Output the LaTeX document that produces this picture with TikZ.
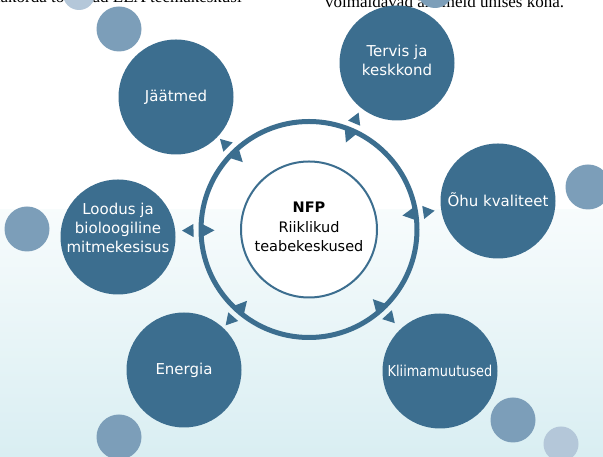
\documentclass[tikz,border=0pt]{standalone}
\usepackage{fontspec}
\setmainfont{DejaVu Sans}
\newfontfamily\serifT{Liberation Serif}
\usetikzlibrary{calc}
\definecolor{dark}{HTML}{3C6E8F}
\definecolor{med}{HTML}{7C9EB9}
\definecolor{lightb}{HTML}{B4C7D9}
\definecolor{bgb}{HTML}{D9EEF2}
\newcommand\outtri[1]{\fill[dark, shift={(c)}, rotate=#1] (127,0) -- (115.5,6.6) -- (115.5,-6.6) -- cycle;}
\newcommand\intri[1]{\fill[dark, shift={(c)}, rotate=#1] (94.5,0) -- (107,6.6) -- (107,-6.6) -- cycle;}
\begin{document}
\begin{tikzpicture}[x=1pt,y=1pt,
  sat/.style={circle, fill=dark, minimum size=115pt, inner sep=0pt},
  bub/.style={circle, fill=med, inner sep=0pt},
  bubl/.style={circle, fill=lightb, inner sep=0pt},
  lbl/.style={text=white, font=\fontsize{15}{19}\selectfont, align=center, inner sep=0pt},
  toptxt/.style={font=\serifT\fontsize{17}{20}\selectfont, inner sep=0pt}
]
\useasboundingbox (0,0) rectangle (603,457);
\clip (0,0) rectangle (603,457);
\fill[white] (0,0) rectangle (603,457);
\shade[top color=bgb!20, bottom color=bgb] (0,0) rectangle (603,247);

% top cut-off text
\node[toptxt, anchor=base east] (t1) at (242,454) {kes omakorda toetavad EEA teemakeskusi};
\node[toptxt, anchor=base west] (t2) at (325,449) {võimaldavad andmeid ühises koha.};

% small bubbles
\node[bubl, minimum size=32pt] (b1) at (79,463) {};
\node[bub, minimum size=45pt] (b2) at (119,428) {};
\node[bub, minimum size=36pt] (b3) at (435,467) {};
\node[bub, minimum size=45pt] (b4) at (588,270) {};
\node[bub, minimum size=45pt] (b5) at (27,228) {};
\node[bub, minimum size=45pt] (b6) at (513,37) {};
\node[bubl, minimum size=35pt] (b7) at (561,13) {};
\node[bub, minimum size=45pt] (b8) at (119,20) {};

% satellites
\node[sat] (s1) at (176,360) {};
\node[sat] (s2) at (397,394) {};
\node[sat] (s3) at (498,256) {};
\node[sat] (s4) at (440,86) {};
\node[sat] (s5) at (184,87) {};
\node[sat] (s6) at (118,220) {};
\node[lbl] (l1) at (176,360) {Jäätmed};
\node[lbl] (l2) at (397,397) {Tervis ja\\keskkond};
\node[lbl] (l3) at (498,257) {Õhu kvaliteet};
\node[lbl] (l4) at (440,86) {\scalebox{0.86}[1]{Kliimamuutused}};
\node[lbl] (l5) at (184,87) {Energia};
\node[lbl] (l6) at (118,229) {Loodus ja\\bioloogiline\\mitmekesisus};

% ring and hub
\coordinate (c) at (309,227.5);
\draw[dark, line width=5pt] (c) circle (108);
\node[circle, draw=dark, line width=2pt, fill=white, minimum size=136pt, inner sep=0pt] (hub) at (c) {};
\node[font=\fontsize{14.5}{19.5}\selectfont, align=center, inner sep=0pt] (ht) at (309,230) {\textbf{NFP}\\Riiklikud\\teabekeskused};

% triangles
\foreach \a in {8.5,67,134.5,180.5,229,-47.5} {\outtri{\a}\intri{\a}}
\end{tikzpicture}
\end{document}
